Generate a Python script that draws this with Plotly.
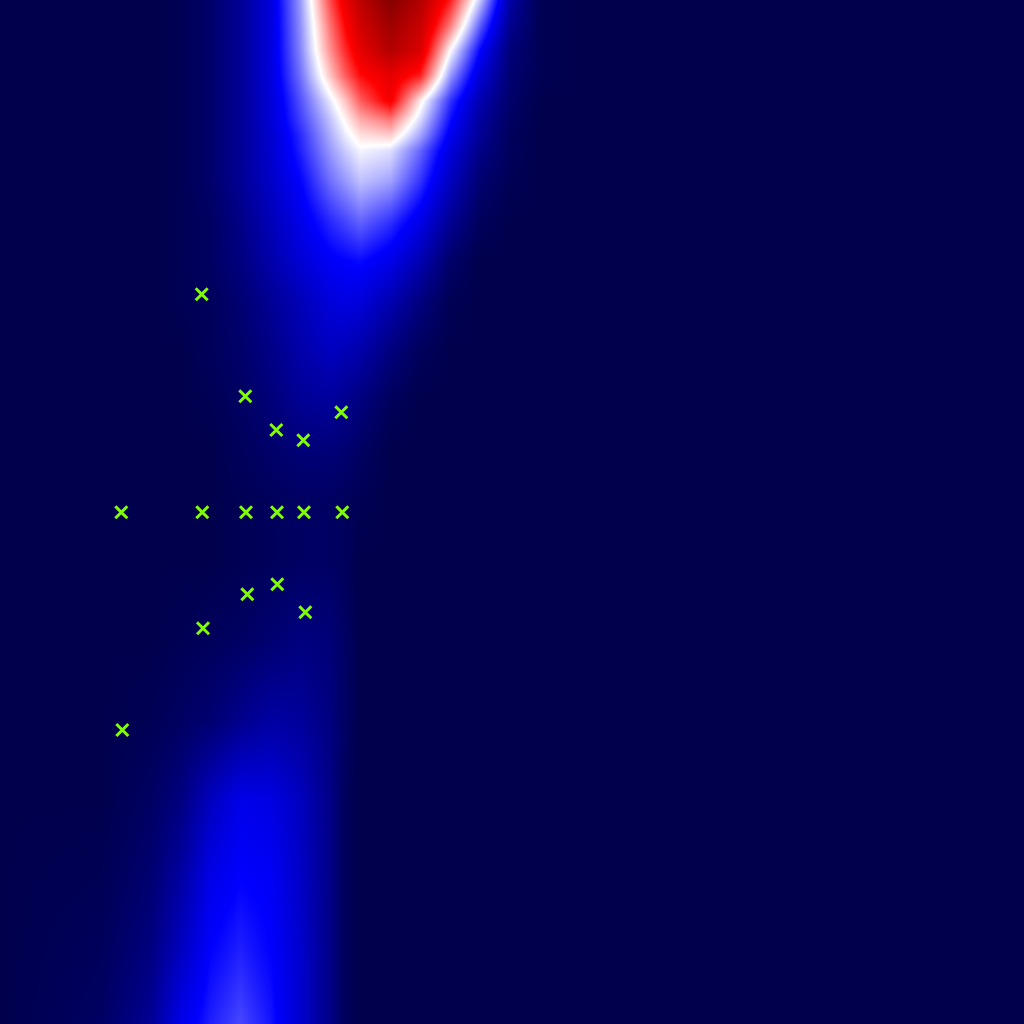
import plotly.graph_objects as go

# Grid of the field (pixel-like units, y grows downward)
grid_x = [0, 100, 150, 180, 210, 240, 270, 300, 330, 345, 360, 390, 420, 450, 480, 510, 540, 580, 1024]
grid_y = [0, 25, 50, 75, 100, 120, 135, 150, 180, 220, 260, 300, 350, 400, 450, 500,
          560, 640, 720, 800, 880, 950, 1024]

field = [
    [0, 0, 0, 0.01, 0.04, 0.10, 0.20, 0.40, 0.68, 0.79, 0.88, 0.99, 0.90, 0.72, 0.44, 0.12, 0.01, 0, 0],
    [0, 0, 0, 0.01, 0.04, 0.10, 0.20, 0.39, 0.64, 0.75, 0.84, 0.94, 0.86, 0.63, 0.34, 0.09, 0.01, 0, 0],
    [0, 0, 0, 0.01, 0.04, 0.10, 0.20, 0.38, 0.61, 0.71, 0.80, 0.90, 0.82, 0.50, 0.25, 0.06, 0.01, 0, 0],
    [0, 0, 0, 0.01, 0.04, 0.10, 0.20, 0.36, 0.56, 0.66, 0.74, 0.80, 0.72, 0.40, 0.19, 0.05, 0.01, 0, 0],
    [0, 0, 0, 0.01, 0.04, 0.10, 0.19, 0.33, 0.48, 0.56, 0.66, 0.77, 0.52, 0.30, 0.14, 0.04, 0, 0, 0],
    [0, 0, 0, 0.01, 0.04, 0.10, 0.19, 0.31, 0.44, 0.51, 0.58, 0.63, 0.46, 0.26, 0.11, 0.03, 0, 0, 0],
    [0, 0, 0, 0.01, 0.04, 0.10, 0.18, 0.29, 0.42, 0.48, 0.53, 0.55, 0.41, 0.23, 0.10, 0.02, 0, 0, 0],
    [0, 0, 0, 0.01, 0.04, 0.10, 0.18, 0.28, 0.40, 0.45, 0.49, 0.47, 0.35, 0.20, 0.08, 0.02, 0, 0, 0],
    [0, 0, 0, 0.01, 0.04, 0.10, 0.17, 0.25, 0.36, 0.40, 0.44, 0.41, 0.30, 0.16, 0.05, 0.01, 0, 0, 0],
    [0, 0, 0, 0.01, 0.03, 0.08, 0.15, 0.22, 0.29, 0.32, 0.35, 0.30, 0.22, 0.10, 0.02, 0, 0, 0, 0],
    [0, 0, 0, 0.01, 0.03, 0.07, 0.13, 0.19, 0.24, 0.25, 0.26, 0.22, 0.14, 0.04, 0, 0, 0, 0, 0],
    [0, 0, 0, 0.01, 0.02, 0.05, 0.10, 0.15, 0.20, 0.21, 0.20, 0.14, 0.07, 0.01, 0, 0, 0, 0, 0],
    [0, 0, 0, 0, 0.02, 0.04, 0.08, 0.13, 0.16, 0.15, 0.13, 0.07, 0.02, 0, 0, 0, 0, 0, 0],
    [0, 0, 0, 0, 0.01, 0.03, 0.06, 0.10, 0.11, 0.09, 0.07, 0.02, 0, 0, 0, 0, 0, 0, 0],
    [0, 0, 0, 0, 0, 0.02, 0.04, 0.06, 0.06, 0.05, 0.03, 0, 0, 0, 0, 0, 0, 0, 0],
    [0, 0, 0, 0, 0, 0.01, 0.02, 0.03, 0.03, 0.02, 0.01, 0, 0, 0, 0, 0, 0, 0, 0],
    [0, 0, 0, 0, 0, 0.01, 0.02, 0.03, 0.03, 0.02, 0, 0, 0, 0, 0, 0, 0, 0, 0],
    [0, 0, 0, 0.01, 0.02, 0.03, 0.05, 0.07, 0.06, 0.03, 0, 0, 0, 0, 0, 0, 0, 0, 0],
    [0, 0, 0.01, 0.03, 0.05, 0.09, 0.12, 0.11, 0.07, 0.03, 0, 0, 0, 0, 0, 0, 0, 0, 0],
    [0, 0, 0.03, 0.07, 0.16, 0.22, 0.21, 0.16, 0.08, 0.02, 0, 0, 0, 0, 0, 0, 0, 0, 0],
    [0, 0.01, 0.05, 0.12, 0.22, 0.25, 0.24, 0.17, 0.08, 0.02, 0, 0, 0, 0, 0, 0, 0, 0, 0],
    [0, 0.02, 0.07, 0.16, 0.25, 0.28, 0.25, 0.18, 0.08, 0.02, 0, 0, 0, 0, 0, 0, 0, 0, 0],
    [0, 0.03, 0.10, 0.22, 0.28, 0.32, 0.27, 0.18, 0.08, 0.02, 0, 0, 0, 0, 0, 0, 0, 0, 0],
]

# Sample points (x markers)
points_x = [201.7, 245.3, 276.3, 303.3, 341.3,
            121.3, 202.3, 246.0, 277.0, 304.0, 342.3,
            247.3, 277.3, 305.3, 203.0, 122.3]
points_y = [294.3, 396.3, 430.0, 440.3, 412.3,
            512.3, 512.3, 512.3, 512.3, 512.3, 512.3,
            594.3, 584.3, 612.3, 628.3, 730.0]

seismic = [
    [0.0, "rgb(0,0,77)"],
    [0.25, "rgb(0,0,255)"],
    [0.5, "rgb(255,255,255)"],
    [0.75, "rgb(255,0,0)"],
    [1.0, "rgb(128,0,0)"],
]

fig = go.Figure()
fig.add_trace(go.Heatmap(
    x=grid_x, y=grid_y, z=field,
    colorscale=seismic, zmin=0, zmax=1,
    zsmooth="best", showscale=False, hoverinfo="skip",
))
fig.add_trace(go.Scatter(
    x=points_x, y=points_y, mode="markers",
    marker=dict(symbol="x-thin", size=12, color="#7fff00",
                line=dict(width=3, color="#7fff00")),
    showlegend=False,
))

fig.update_layout(
    width=1024, height=1024,
    margin=dict(l=0, r=0, t=0, b=0),
    paper_bgcolor="rgb(0,0,77)", plot_bgcolor="rgb(0,0,77)",
    xaxis=dict(range=[0, 1024], visible=False, showgrid=False, zeroline=False),
    yaxis=dict(range=[1024, 0], visible=False, showgrid=False, zeroline=False),
    showlegend=False,
)

fig.write_html("out.html")
